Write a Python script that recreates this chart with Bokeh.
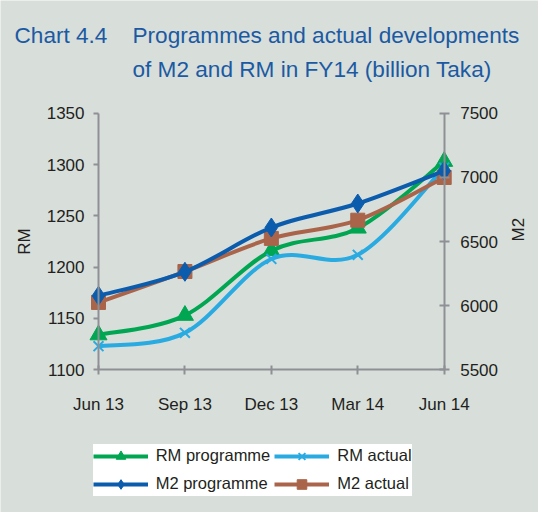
import math
from bokeh.plotting import figure
from bokeh.models import Range1d, LinearAxis, FixedTicker, Label, Legend, LegendItem
from bokeh.embed import file_html
from bokeh.resources import INLINE

# ---- data ----
months = ["Jun 13", "Sep 13", "Dec 13", "Mar 14", "Jun 14"]
rm_programme = [1134, 1153, 1216, 1238, 1303]
rm_actual = [1123, 1136, 1208, 1212, 1297]
m2_programme = [6077, 6264, 6609, 6796, 7051]
m2_actual = [6025, 6266, 6524, 6666, 6999]
rm_ticks = [1100, 1150, 1200, 1250, 1300, 1350]
m2_ticks = [5500, 6000, 6500, 7000, 7500]
title_lines = ["Chart 4.4", "Programmes and actual developments", "of M2 and RM in FY14 (billion Taka)"]
legend_order = ["RM programme", "RM actual", "M2 programme", "M2 actual"]

BG = "#D8DEDA"
TXT = "#231F20"
AX = "#8E9093"
TITLE = "#1B5AA3"
FONT = "Liberation Sans"

# ---- canvas layout (pixels inside the figure) ----
CW, CH = 538, 512
PL, PR = 98.0, 443.7        # plot area left / right
PT, PB = 112.7, 369.3       # plot area top / bottom

n = len(months)
xs = list(range(n))
xpp = (n - 1) / (PR - PL)
x_range = Range1d(-PL * xpp, (n - 1) + (CW - PR) * xpp)
rm_lo, rm_hi = rm_ticks[0], rm_ticks[-1]
m2_lo, m2_hi = m2_ticks[0], m2_ticks[-1]
rpp = (rm_hi - rm_lo) / (PB - PT)
mpp = (m2_hi - m2_lo) / (PB - PT)
y_range = Range1d(rm_lo - (CH - PB) * rpp, rm_hi + PT * rpp)

p = figure(frame_width=CW, frame_height=CH, min_border=0,
           x_range=x_range, y_range=y_range,
           output_backend="svg", toolbar_location=None,
           background_fill_color=BG, border_fill_color=BG, outline_line_color=None,
           x_axis_location=None, y_axis_location=None)
p.grid.visible = False
p.extra_y_ranges = {
    "m2": Range1d(m2_lo - (CH - PB) * mpp, m2_hi + PT * mpp),
    "key": Range1d(-2, -1),
}


def smooth(xv, yv):
    m = len(xv)
    P = list(zip(xv, yv))
    d = dict(x0=[], y0=[], x1=[], y1=[], cx0=[], cy0=[], cx1=[], cy1=[])
    for i in range(m - 1):
        pm = P[i - 1] if i > 0 else P[i]
        a = P[i]
        b = P[i + 1]
        pn = P[i + 2] if i + 2 < m else P[i + 1]
        d["x0"].append(a[0]); d["y0"].append(a[1])
        d["x1"].append(b[0]); d["y1"].append(b[1])
        d["cx0"].append(a[0] + (b[0] - pm[0]) / 6); d["cy0"].append(a[1] + (b[1] - pm[1]) / 6)
        d["cx1"].append(b[0] - (pn[0] - a[0]) / 6); d["cy1"].append(b[1] - (pn[1] - a[1]) / 6)
    return d


series = [
    ("RM programme", rm_programme, "default", "#00A651", "triangle", 17),
    ("RM actual", rm_actual, "default", "#29ABE2", "x", 14),
    ("M2 actual", m2_actual, "m2", "#A9644A", "square", 14),
    ("M2 programme", m2_programme, "m2", "#0B5CAD", "diamond", 19),
]
key_parts = {}
for name, vals, rng, col, mk, sz in series:
    d = smooth(xs, vals)
    p.bezier(x0="x0", y0="y0", x1="x1", y1="y1", cx0="cx0", cy0="cy0", cx1="cx1", cy1="cy1",
             source=d, line_color=col, line_width=4, y_range_name=rng)
    s = p.scatter(xs, vals, marker=mk, size=sz, fill_color=col, line_color=col,
                  line_width=2 if mk == "x" else 1, y_range_name=rng)
    # straight line kept off-canvas: only used to draw the legend key line
    k = p.line(xs, vals, line_color=col, line_width=4, y_range_name="key")
    key_parts[name] = [k, s]

# ---- axes drawn at fixed data locations ----
xa = LinearAxis(fixed_location=rm_lo, bounds=(0, n - 1), ticker=FixedTicker(ticks=xs),
                major_label_overrides={i: m for i, m in enumerate(months)})
p.add_layout(xa, "below")
ya = LinearAxis(fixed_location=0, bounds=(rm_lo, rm_hi), ticker=FixedTicker(ticks=rm_ticks),
                axis_label="RM")
p.add_layout(ya, "left")
ra = LinearAxis(fixed_location=n - 1, y_range_name="m2", bounds=(m2_lo, m2_hi),
                ticker=FixedTicker(ticks=m2_ticks), axis_label="M2")
p.add_layout(ra, "right")

for ax in [xa, ya, ra]:
    ax.axis_line_color = AX
    ax.axis_line_width = 2
    ax.major_tick_line_color = AX
    ax.major_tick_line_width = 2
    ax.minor_tick_line_color = None
    ax.major_label_text_font = FONT
    ax.major_label_text_font_size = "17px"
    ax.major_label_text_color = TXT
    ax.axis_label_text_font = FONT
    ax.axis_label_text_font_size = "17px"
    ax.axis_label_text_font_style = "normal"
    ax.axis_label_text_color = TXT
xa.major_tick_in = 4; xa.major_tick_out = 5; xa.major_label_standoff = 20
ya.major_tick_in = 0; ya.major_tick_out = 5; ya.major_label_standoff = 9
ya.axis_label_standoff = 10
ra.major_tick_in = 5; ra.major_tick_out = 5; ra.major_label_standoff = 11
ra.axis_label_standoff = 17
ra.axis_label_orientation = math.pi / 2

# ---- title ----
for txt, x, y in [(title_lines[0], 14, CH - 35.3), (title_lines[1], 132, CH - 35.3),
                  (title_lines[2], 132, CH - 68.7)]:
    p.add_layout(Label(x=x, y=y, x_units="screen", y_units="screen", text=txt,
                       text_font=FONT, text_font_size="22.6px",
                       text_color=TITLE, text_baseline="alphabetic"))

# ---- legend ----
legend = Legend(items=[LegendItem(label=nm, renderers=key_parts[nm]) for nm in legend_order],
                location=(92.7, 16.5), orientation="horizontal", ncols=2, margin=0,
                background_fill_color="white", background_fill_alpha=1,
                border_line_color=None, glyph_width=55, glyph_height=24,
                label_height=24, label_standoff=8, spacing=4, padding=2,
                label_text_font=FONT, label_text_font_size="16.5px",
                label_text_color=TXT)
p.add_layout(legend, "center")

open("out.html", "w").write(file_html(p, INLINE))
